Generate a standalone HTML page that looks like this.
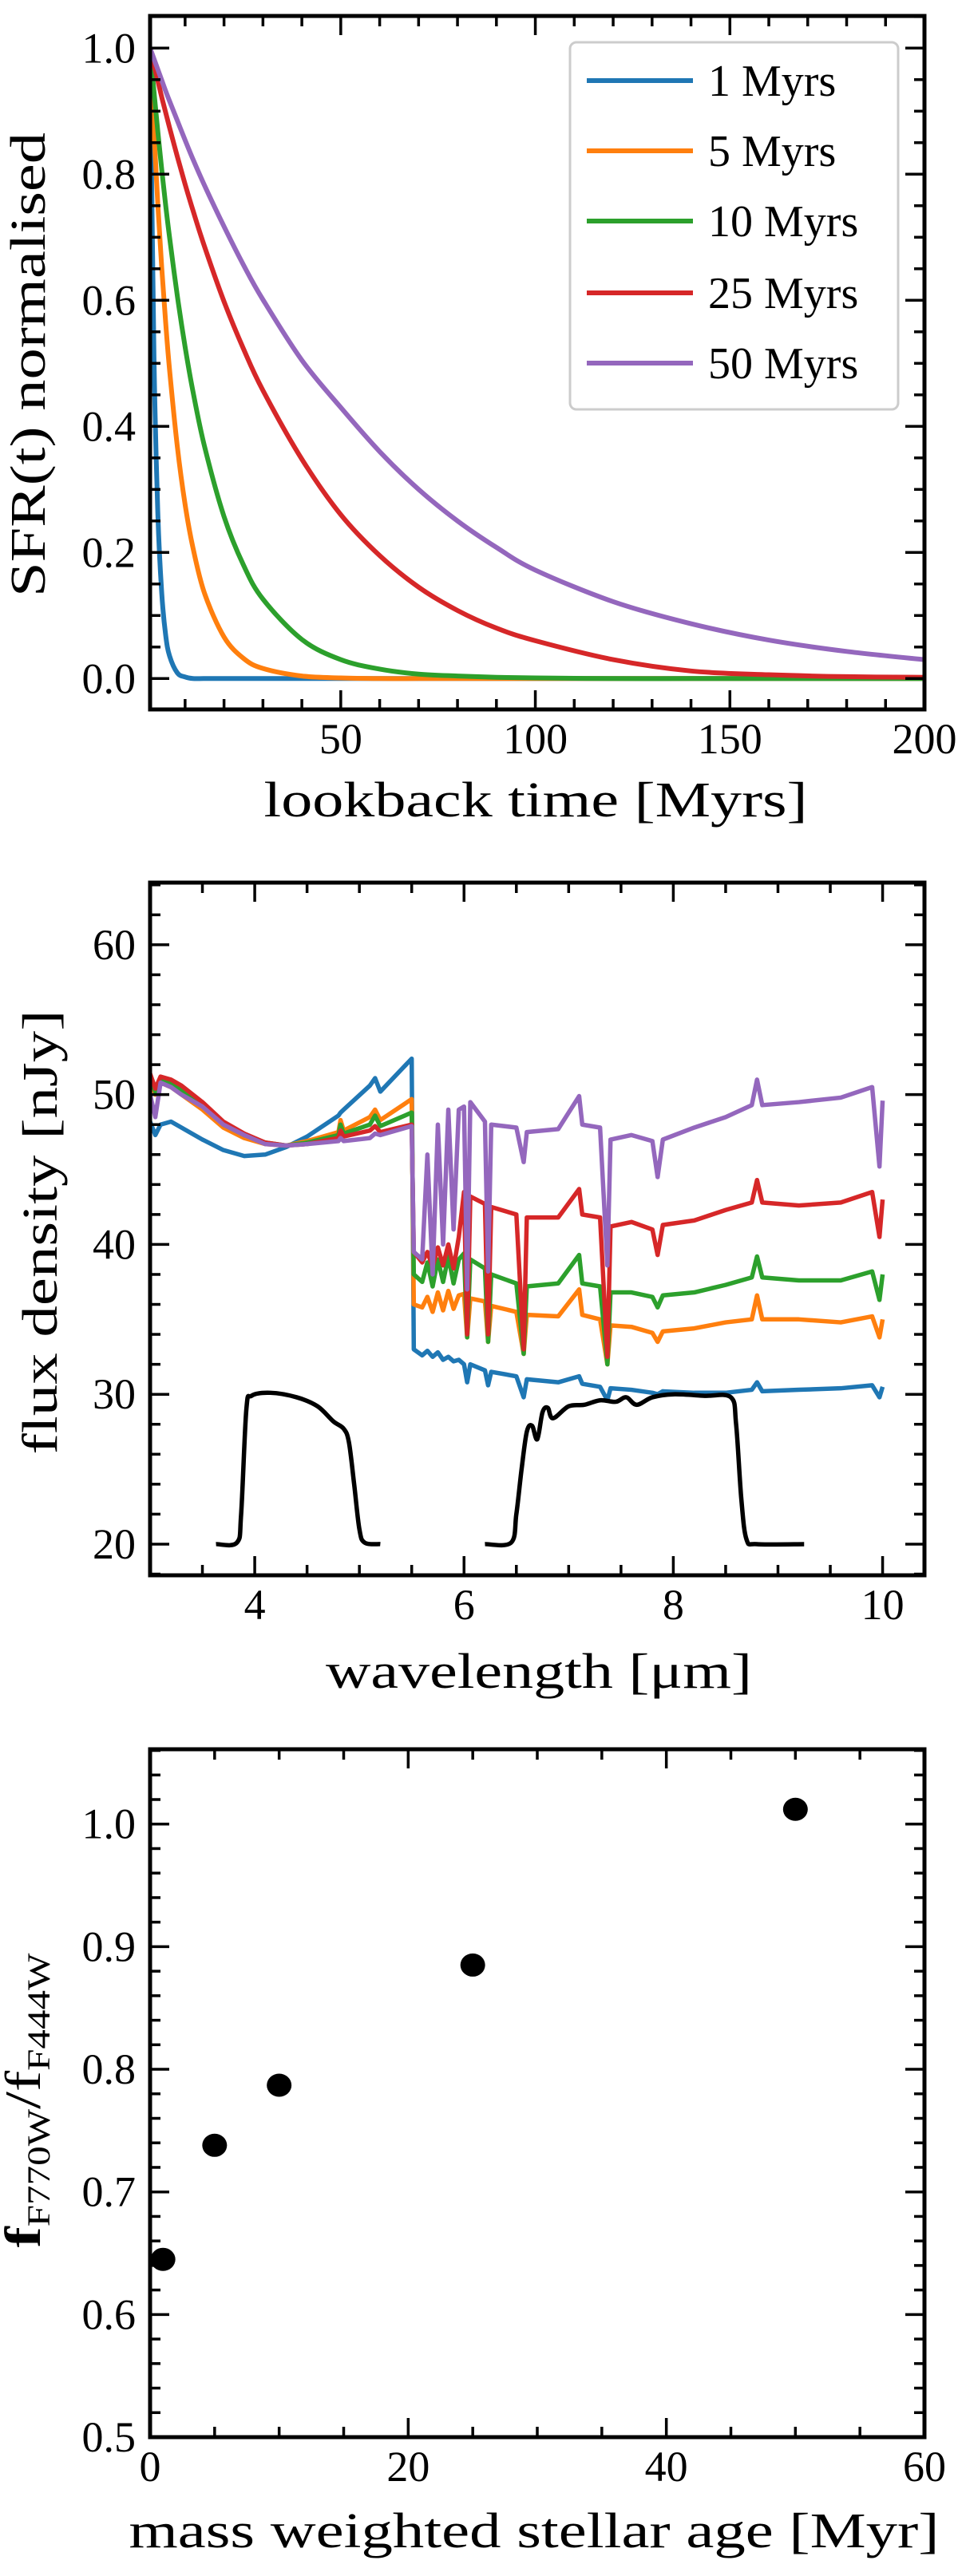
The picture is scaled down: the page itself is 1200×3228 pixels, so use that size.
<!DOCTYPE html>
<html><head><meta charset="utf-8"><style>
html,body{margin:0;padding:0;background:#fff;}
svg{display:block;}
text{font-family:"Liberation Serif","DejaVu Serif",serif;fill:#000;}
</style></head><body>
<svg id="fig" width="1200" height="3228" viewBox="0 0 1200 3228" xmlns="http://www.w3.org/2000/svg"></svg>
<script>
// ---------- Panel 1 data ----------
const sfhTime = [1,2,3,4,5,6,8,10,12,15,20,25,30,40,50,60,70,80,90,100,120,140,160,180,200];
const sfh1 = [1,.51,.26,.135,.069,.036,.009,.0025,0,0,0,0,0,0,0,0,0,0,0,0,0,0,0,0,0];
const sfh5 = [1,.867,.751,.651,.565,.490,.368,.276,.208,.135,.066,.032,.016,.004,.001,0,0,0,0,0,0,0,0,0,0];
const sfh10 = [1,.931,.867,.807,.751,.700,.607,.526,.456,.368,.257,.180,.126,.062,.030,.015,.007,.004,.002,.001,0,0,0,0,0];
const sfh25 = [1,.973,.948,.922,.898,.874,.828,.784,.743,.685,.598,.523,.457,.348,.260,.195,.145,.108,.080,.060,.03,.012,.006,.003,.002];
const sfh50 = [1,.983,.966,.949,.932,.916,.885,.854,.824,.782,.717,.656,.601,.505,.430,.360,.300,.250,.208,.172,.122,.087,.061,.043,.030];
const sfhLabels = ["1 Myrs","5 Myrs","10 Myrs","25 Myrs","50 Myrs"];
const p1XTicks = [50,100,150,200];
const p1YTicks = [0,0.2,0.4,0.6,0.8,1.0];

// ---------- Panel 2 data ----------
const wave = [3.0,3.05,3.1,3.2,3.3,3.5,3.7,3.9,4.1,4.3,4.5,4.8,4.82,4.85,5.1,5.15,5.2,5.5,5.52,5.6,5.65,5.7,5.75,5.8,5.85,5.9,5.95,6.0,6.03,6.06,6.2,6.23,6.26,6.5,6.57,6.6,6.9,7.1,7.13,7.3,7.37,7.4,7.6,7.8,7.85,7.9,8.2,8.5,8.75,8.8,8.85,9.2,9.6,9.9,9.97,10.0];
const flux1 = [48.2,47.3,48.0,48.2,47.8,47.0,46.3,45.9,46.0,46.5,47.2,48.6,48.8,49.0,50.6,51.1,50.2,52.4,33.0,32.6,32.9,32.5,32.8,32.3,32.5,32.2,32.3,32.0,30.8,32.0,31.6,30.6,31.5,31.2,29.8,31.0,30.8,31.2,30.7,30.5,29.6,30.4,30.3,30.1,30.0,30.2,30.1,30.1,30.3,30.8,30.2,30.3,30.4,30.6,29.8,30.5];
const flux5 = [51.0,50.0,50.8,50.5,50.0,49.0,47.8,47.1,46.7,46.6,46.9,47.5,48.3,47.6,48.5,49.0,48.3,49.7,36.0,35.8,36.5,35.5,36.8,35.6,36.9,35.7,36.6,36.7,33.8,36.4,36.2,33.5,35.9,35.5,32.7,35.3,35.2,37.0,35.3,35.0,32.0,34.6,34.5,34.1,33.5,34.2,34.4,34.8,35.0,36.6,35.0,35.0,34.8,35.2,33.8,35.0];
const flux10 = [51.2,50.2,51.0,50.8,50.3,49.3,48.0,47.3,46.8,46.6,46.8,47.3,48.0,47.4,48.0,48.6,47.9,48.8,38.0,37.5,38.8,37.2,39.0,37.5,39.2,37.4,39.0,39.4,33.8,39.0,38.4,33.5,38.0,37.4,32.7,37.2,37.4,39.3,37.4,37.2,32.0,36.8,36.8,36.5,35.8,36.6,36.8,37.3,37.8,39.2,37.8,37.6,37.6,38.2,36.3,38.0];
const flux25 = [51.4,50.4,51.2,51.0,50.6,49.5,48.2,47.4,46.8,46.6,46.7,47.1,47.6,47.2,47.6,47.9,47.5,48.0,39.5,38.8,39.5,38.5,39.8,38.6,40.0,38.4,40.5,43.5,34.0,43.2,42.7,34.0,42.5,42.0,33.0,41.8,41.8,43.7,42.0,41.8,32.5,41.2,41.5,41.0,39.3,41.3,41.6,42.3,42.8,44.3,42.8,42.6,42.8,43.5,40.5,43.0];
const flux50 = [50.0,48.5,50.8,50.5,50.0,49.2,48.0,47.3,46.7,46.6,46.7,46.9,47.1,46.9,47.1,47.4,47.3,47.9,39.5,39.0,46.0,38.0,48.0,40.0,49.0,41.0,49.0,49.2,37.0,49.5,48.2,38.2,48.0,47.8,45.5,47.5,47.7,49.9,48.0,47.8,38.6,47.0,47.3,46.9,44.5,47.0,47.8,48.5,49.3,51.0,49.3,49.5,49.8,50.5,45.2,49.6];
const f444Wave = [3.63,3.83,3.87,3.92,3.97,4.15,4.4,4.6,4.75,4.85,4.9,4.95,5.0,5.05,5.2];
const f444Val = [20,20.1,22,29,29.9,30.1,29.8,29.2,28.2,27.7,26.8,24,21,20.1,20];
const f770Wave = [6.2,6.45,6.5,6.55,6.6,6.65,6.7,6.75,6.8,6.85,7.0,7.15,7.3,7.45,7.55,7.65,7.8,8.0,8.3,8.55,8.6,8.65,8.7,8.8,9.25];
const f770Val = [20,20.1,22,25,27.5,27.9,27.0,28.8,29.1,28.4,29.2,29.3,29.6,29.5,29.8,29.3,29.8,30.0,29.9,29.8,28,23,20.3,20,20];
const p2XTicks = [4,6,8,10];
const p2YTicks = [20,30,40,50,60];

// ---------- Panel 3 data ----------
const ageVals = [1,5,10,25,50];
const ratioVals = [0.645,0.738,0.787,0.885,1.012];
const p3XTicks = [0,20,40,60];
const p3YTicks = [0.5,0.6,0.7,0.8,0.9,1.0];

const colors = ["#1f77b4","#ff7f0e","#2ca02c","#d62728","#9467bd"];
const NS = "http://www.w3.org/2000/svg";
const svg = document.getElementById("fig");
function mk(tag, attrs, parent){ const e=document.createElementNS(NS,tag); for(const k in attrs) e.setAttribute(k,attrs[k]); (parent||svg).appendChild(e); return e; }
function scale(d0,d1,r0,r1){ return v => r0 + (v-d0)/(d1-d0)*(r1-r0); }

function axesFrame(id, L,R,T,B, xs, ys, xMaj, xMin, yMaj, yMin, xRange, yRange){
  const g = mk("g",{});
  
  
  const tk = (x1,y1,x2,y2)=>mk("line",{x1,y1,x2,y2,stroke:"#000","stroke-width":3.5},g);
  for(let v=xRange[0]; v<=xRange[1]+1e-9; v+=xMin){
    const vv=Math.round(v*1000)/1000; const x=xs(vv);
    if(x<L-0.5||x>R+0.5) continue;
    const maj = Math.abs(vv/xMaj-Math.round(vv/xMaj))<1e-6;
    const len = maj?24:13;
    tk(x,B,x,B-len); tk(x,T,x,T+len);
  }
  for(let v=yRange[0]; v<=yRange[1]+1e-9; v+=yMin){
    const vv=Math.round(v*1000)/1000; const y=ys(vv);
    if(y<T-0.5||y>B+0.5) continue;
    const maj = Math.abs(vv/yMaj-Math.round(vv/yMaj))<1e-6;
    const len = maj?24:13;
    tk(L,y,L+len,y); tk(R,y,R-len,y);
  }
  const fr = mk("rect",{x:L,y:T,width:R-L,height:B-T,fill:"none",stroke:"#000","stroke-width":5},g);
  
  
  return g;
}
function tickLabels(id, xt, yt, xs, ys, L, B, fmtX, fmtY){
  xt.forEach(v=>{
    const t=mk("text",{x:xs(v),y:B+55,"font-size":54,"text-anchor":"middle"});
    t.textContent=fmtX(v);
    
    
  });
  yt.forEach(v=>{
    const t=mk("text",{x:L-18,y:ys(v)+18,"font-size":54,"text-anchor":"end"});
    t.textContent=fmtY(v);
    
    
  });
}
function clip(id,L,R,T,B){ const d=mk("defs",{}); const c=mk("clipPath",{id},d); mk("rect",{x:L,y:T,width:R-L,height:B-T},c); }
function smoothPath(pts){
  let d="M"+pts[0][0]+","+pts[0][1];
  for(let i=0;i<pts.length-1;i++){
    const p0=pts[Math.max(0,i-1)],p1=pts[i],p2=pts[i+1],p3=pts[Math.min(pts.length-1,i+2)];
    const c1x=p1[0]+(p2[0]-p0[0])/6, c1y=p1[1]+(p2[1]-p0[1])/6;
    const c2x=p2[0]-(p3[0]-p1[0])/6, c2y=p2[1]-(p3[1]-p1[1])/6;
    d+=` C${c1x},${c1y} ${c2x},${c2y} ${p2[0]},${p2[1]}`;
  }
  return d;
}

// ================= Panel 1 =================
{
  const L=188,R=1158,T=20,B=889;
  const xs=scale(1,200,L,R), ys=scale(-0.049,1.051,B,T);
  clip("c1",L,R,T,B);
  const series=[sfh1,sfh5,sfh10,sfh25,sfh50];
  const gl=mk("g",{"clip-path":"url(#c1)"});
  series.forEach((s,i)=>{
    const pts=sfhTime.map((t,j)=>[xs(t),ys(Math.max(0,s[j]))]);
    const p=mk("path",{d:smoothPath(pts),fill:"none",stroke:colors[i],"stroke-width":6,"stroke-linejoin":"round"},gl);
    
    
  });
  axesFrame("sfh",L,R,T,B,xs,ys,50,10,0.2,0.05,[0,200],[0,1.05]);
  tickLabels("sfh",p1XTicks,p1YTicks,xs,ys,L,B,v=>String(v),v=>v.toFixed(1));
  const lg=mk("g",{});
  
  
  mk("rect",{x:714,y:53,width:411,height:460,rx:8,fill:"#fff","fill-opacity":0.85,stroke:"#cccccc","stroke-width":3},lg);
  const rows=[101,189,277,367,455];
  sfhLabels.forEach((lab,i)=>{
    const e=mk("g",{},lg);
    
    
    mk("line",{x1:735,y1:rows[i],x2:868,y2:rows[i],stroke:colors[i],"stroke-width":6},e);
    const t=mk("text",{x:887,y:rows[i]+19,"font-size":56},e);
    t.textContent=lab;
  });
  const xl=mk("text",{x:671,y:1023,"font-size":62,"text-anchor":"middle",textLength:681,lengthAdjust:"spacingAndGlyphs"});
  xl.textContent="lookback time [Myrs]";
  
  
  const yl=mk("text",{x:0,y:0,"font-size":62,"text-anchor":"middle",transform:"translate(56,457) rotate(-90)",textLength:582,lengthAdjust:"spacingAndGlyphs"});
  yl.textContent="SFR(t) normalised";
  
  
}

// ================= Panel 2 =================
{
  const L=188,R=1158,T=1106,B=1974;
  const xs=scale(3,10.4,L,R), ys=scale(17.92,64.15,B,T);
  clip("c2",L,R,T,B);
  const gl=mk("g",{"clip-path":"url(#c2)"});
  const series=[flux1,flux5,flux10,flux25,flux50];
  const names=["1","5","10","25","50"];
  series.forEach((s,i)=>{
    const pts=wave.map((w,j)=>xs(w)+","+ys(s[j])).join(" ");
    const p=mk("polyline",{points:pts,fill:"none",stroke:colors[i],"stroke-width":5.5,"stroke-linejoin":"round"},gl);
    
    
  });
  [[f444Wave,f444Val,"f444w"],[f770Wave,f770Val,"f770w"]].forEach(([wx,wy,n])=>{
    const pts=wx.map((w,j)=>[xs(w),ys(wy[j])]);
    const p=mk("path",{d:smoothPath(pts),fill:"none",stroke:"#000","stroke-width":5.5,"stroke-linejoin":"round"},gl);
    
    
  });
  axesFrame("spec",L,R,T,B,xs,ys,2,0.5,10,2,[3,10.4],[18,64]);
  tickLabels("spec",p2XTicks,p2YTicks,xs,ys,L,B,v=>String(v),v=>String(v));
  const xl=mk("text",{x:675,y:2115,"font-size":62,"text-anchor":"middle",textLength:534,lengthAdjust:"spacingAndGlyphs"});
  xl.textContent="wavelength [μm]";
  
  
  const yl=mk("text",{x:0,y:0,"font-size":62,"text-anchor":"middle",transform:"translate(71,1544) rotate(-90)",textLength:557,lengthAdjust:"spacingAndGlyphs"});
  yl.textContent="flux density [nJy]";
  
  
}

// ================= Panel 3 =================
{
  const L=188,R=1158,T=2192,B=3054;
  const xs=scale(0,60,L,R), ys=scale(0.5,1.061,B,T);
  ageVals.forEach((a,i)=>{
    const c=mk("ellipse",{cx:xs(a),cy:ys(ratioVals[i]),rx:15.5,ry:14.5,fill:"#000"});
    
    
  });
  axesFrame("ratio",L,R,T,B,xs,ys,20,5,0.1,0.02,[0,60],[0.5,1.06]);
  tickLabels("ratio",p3XTicks,p3YTicks,xs,ys,L,B,v=>String(v),v=>v.toFixed(1));
  const xl=mk("text",{x:669,y:3192,"font-size":62,"text-anchor":"middle",textLength:1015,lengthAdjust:"spacingAndGlyphs"});
  xl.textContent="mass weighted stellar age [Myr]";
  
  
  const yl=mk("text",{x:0,y:0,"font-size":64,"font-weight":"bold","text-anchor":"middle",transform:"translate(50,2632) rotate(-90)",textLength:369,lengthAdjust:"spacingAndGlyphs"});
  
  
  const a=mk("tspan",{},yl); a.textContent="f";
  const b=mk("tspan",{"font-size":40,"font-weight":"normal",dy:12},yl); b.textContent="F770W";
  const c=mk("tspan",{dy:-12,"font-weight":"normal"},yl); c.textContent="/f";
  const d=mk("tspan",{"font-size":40,"font-weight":"normal",dy:12},yl); d.textContent="F444W";
}
</script>
</body></html>
